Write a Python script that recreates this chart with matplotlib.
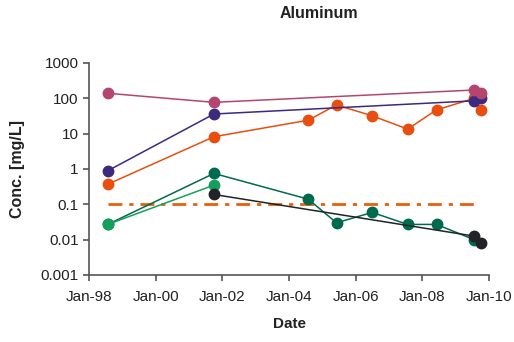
#!/usr/bin/env python3
"""Aluminum concentration time series at several monitoring wells (log scale)."""
import matplotlib

matplotlib.use("Agg")

import matplotlib.dates as mdates
import matplotlib.pyplot as plt
import numpy as np

plt.rcParams["font.family"] = ["Liberation Sans", "DejaVu Sans"]

# sample dates and concentrations (mg/L) per well
pink_dates = ["1998-07-25", "2001-10-01", "2009-07-22", "2009-10-05"]
pink_vals = [139, 77, 172, 139]

purple_dates = ["1998-07-25", "2001-10-01", "2009-07-22", "2009-10-05"]
purple_vals = [0.89, 36, 85, 104]

orange_dates = ["1998-07-25", "2001-10-01", "2004-07-30", "2005-06-05",
                "2006-07-01", "2007-07-25", "2008-06-05", "2009-07-22",
                "2009-10-05"]
orange_vals = [0.37, 8.2, 24, 65, 32, 13.5, 47, 100, 47]

dkgreen_dates = ["1998-07-25", "2001-10-01", "2004-07-30", "2005-06-05",
                 "2006-07-01", "2007-07-25", "2008-06-05", "2009-07-22"]
dkgreen_vals = [0.027, 0.75, 0.14, 0.030, 0.059, 0.027, 0.027, 0.010]

ltgreen_dates = ["1998-07-25", "2001-10-01"]
ltgreen_vals = [0.027, 0.35]

black_dates = ["2001-10-01", "2009-07-22", "2009-10-05"]
black_vals = [0.19, 0.0126, 0.0083]

# screening level
limit_dates = ["1998-07-25", "2009-08-20"]
limit_vals = [0.1, 0.1]

# drawn bottom to top
series = [
    (dkgreen_dates, dkgreen_vals, "#006a4e"),
    (ltgreen_dates, ltgreen_vals, "#14a05a"),
    (black_dates, black_vals, "#222326"),
    (orange_dates, orange_vals, "#e84e0f"),
    (purple_dates, purple_vals, "#3c2a7e"),
    (pink_dates, pink_vals, "#b5456f"),
]

fig = plt.figure(figsize=(5.14, 3.42), dpi=100)
ax = fig.add_axes([89 / 514, 1 - 275 / 342, 400 / 514, 212 / 342])

ax.plot(np.array(limit_dates, dtype="datetime64[D]"), limit_vals,
        color="#e8600a", lw=2.0, dashes=(5, 2.5, 1.5, 2.5), zorder=1)

for dates, vals, color in series:
    ax.plot(np.array(dates, dtype="datetime64[D]"), vals, color=color,
            lw=1.1, marker="o", ms=7.5, mec=color, mfc=color, zorder=3)

ax.set_yscale("log")
ax.set_ylim(0.001, 1000)
ax.set_yticks([0.001, 0.01, 0.1, 1, 10, 100, 1000])
ax.set_yticklabels(["0.001", "0.01", "0.1", "1", "10", "100", "1000"])
ax.yaxis.set_minor_locator(matplotlib.ticker.NullLocator())

ax.set_xlim(np.datetime64("1998-01-01"), np.datetime64("2010-01-01"))
ax.xaxis.set_major_locator(mdates.YearLocator(2))
ax.xaxis.set_major_formatter(mdates.DateFormatter("%b-%y"))

for side in ("top", "right"):
    ax.spines[side].set_visible(False)
for side in ("left", "bottom"):
    ax.spines[side].set_color("#555555")
    ax.spines[side].set_linewidth(1.2)
ax.tick_params(axis="both", colors="#555555", labelcolor="#222222",
               labelsize=11, length=4, width=1.2, direction="out")
ax.tick_params(axis="x", pad=7)

ax.set_xlabel("Date", fontsize=11, fontweight="bold", color="#222222",
              labelpad=9)
fig.text(18 / 514, 1 - 169 / 342, "Conc. [mg/L]", rotation=90,
         ha="center", va="center", fontsize=11.5, fontweight="bold",
         color="#222222")
fig.text(319 / 514, 1 - 14 / 342, "Aluminum", ha="center", va="center",
         fontsize=11.5, fontweight="bold", color="#222222")

fig.savefig("out.png", dpi=100)
